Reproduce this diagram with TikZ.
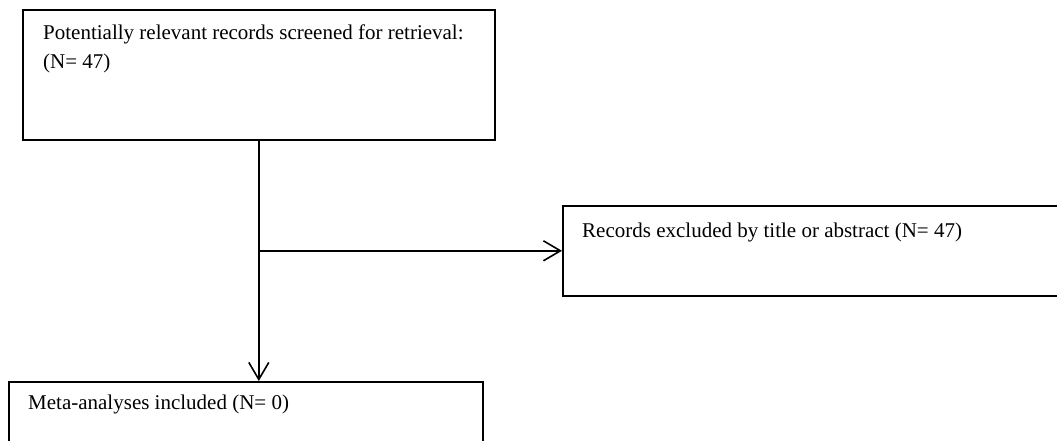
\documentclass[tikz,border=0pt]{standalone}
\usepackage{fontspec}
\setmainfont{Liberation Serif}
\usetikzlibrary{arrows.meta}
\begin{document}
\begin{tikzpicture}[x=1pt,y=-1pt,
  box/.style={draw,line width=1.6pt,rectangle,inner sep=0pt,anchor=north west},
  lbl/.style={inner sep=0pt,font=\fontsize{21}{28.5}\selectfont,align=left},
  arr/.style={line width=1.6pt,-{Straight Barb[length=17pt,width=20pt,line width=1.6pt]}}]
\useasboundingbox (0,0) rectangle (1057,440);
\node[box,minimum width=472pt,minimum height=130pt] (b1) at (22,9) {};
\node[box,minimum width=510pt,minimum height=90pt] (b2) at (562,205) {};
\node[box,minimum width=474pt,minimum height=80pt] (b3) at (8,381) {};
\node[lbl,anchor=north west] (t1) at (43,25) {Potentially relevant records screened for retrieval:\\(N= 47)};
\node[lbl,anchor=base west] (t2) at (582,237) {Records excluded by title or abstract (N= 47)};
\node[lbl,anchor=base west] (t3) at (28,409) {Meta-analyses included (N= 0)};
\coordinate (j) at (b1.south |- b2.west);
\draw[arr] (b1.south) -- (b1.south |- b3.north);
\draw[arr] (j) -- (b2.west);
\end{tikzpicture}
\end{document}
